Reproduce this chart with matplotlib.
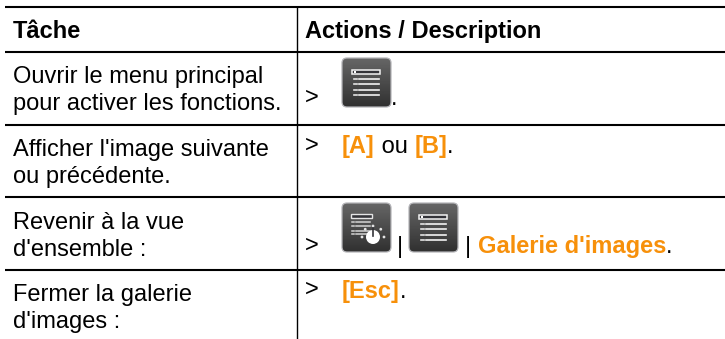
import numpy as np
import matplotlib
matplotlib.use('Agg')
import matplotlib.pyplot as plt
from matplotlib.patches import FancyBboxPatch, Circle, Rectangle

plt.rcParams['font.family'] = ['Liberation Sans', 'DejaVu Sans']

# ---------------------------
# Inhalt der Tabelle
# ---------------------------
headers = ['Tâche', 'Actions / Description']
taches = [['Ouvrir le menu principal', 'pour activer les fonctions.'],
          ["Afficher l'image suivante", 'ou précédente.'],
          ['Revenir à la vue', "d'ensemble :"],
          ['Fermer la galerie', "d'images :"]]
ligne_y = [7, 52, 125, 197, 270]
orange = '#f7900a'
noir = '#000000'
fs = 17.0

fig = plt.figure(figsize=(7.25, 3.39), dpi=100)
ax = fig.add_axes([0, 0, 1, 1])
ax.set_xlim(0, 725)
ax.set_ylim(339, 0)
ax.axis('off')


def icone(x, y, w=49, h=49):
    grad = np.linspace(0.40, 0.19, 64).reshape(-1, 1)
    im = ax.imshow(grad, extent=(x, x + w, y + h, y), cmap='gray', vmin=0, vmax=1,
                   aspect='auto', zorder=2, interpolation='bilinear')
    box = FancyBboxPatch((x + 4, y + 4), w - 8, h - 8, boxstyle='round,pad=4,rounding_size=5',
                         fc='none', ec='#b4b4b8', lw=0.9, zorder=3)
    ax.add_patch(box)
    im.set_clip_path(box)


def liste(x, y):
    # Menüsymbol: Titelbalken und vier Zeilen
    ax.add_patch(Rectangle((x + 10, y + 12), 28, 4, fc='#333338', ec='#f2f2f2', lw=1.1, zorder=4))
    ax.add_patch(Rectangle((x + 12, y + 12.8), 2.5, 2.5, fc='white', ec='none', zorder=5))
    for yy in [21, 26, 31.5, 36.5]:
        ax.plot([x + 12, x + 15], [y + yy, y + yy], color='#e4e4e4', lw=1.2, zorder=4)
        ax.plot([x + 17, x + 37], [y + yy, y + yy], color='#f2f2f2', lw=1.2, zorder=4)


def liste_bouton(x, y):
    ax.add_patch(Rectangle((x + 9, y + 11), 21, 4, fc='#333338', ec='#e4e4e4', lw=1.0, zorder=4))
    for yy in [19, 23, 27.5, 31]:
        ax.plot([x + 10, x + 12], [y + yy, y + yy], color='#d4d4d4', lw=1.1, zorder=4)
        ax.plot([x + 14, x + 28], [y + yy, y + yy], color='#d4d4d4', lw=1.1, zorder=4)
    ax.add_patch(Circle((x + 31, y + 34), 7, fc='white', ec='none', zorder=5))
    ax.plot([x + 31, x + 31], [y + 25, y + 33], color='#333338', lw=1.2, zorder=6)
    for a in np.deg2rad([180, 225, 270, 315, 0]):
        ax.add_patch(Circle((x + 31 + 11 * np.cos(a), y + 34 + 11 * np.sin(a)), 1.4,
                            fc='#e4e4e4', ec='none', zorder=5))


def zeile(x, y, teile):
    # Textstücke nacheinander setzen, Breite aus dem Renderer
    r = fig.canvas.get_renderer()
    for txt, fett in teile:
        t = ax.text(x, y, txt, fontsize=fs, va='baseline',
                    fontweight='bold' if fett else 'normal',
                    color=orange if fett else noir)
        x = ax.transData.inverted().transform(t.get_window_extent(r))[1, 0]
    return x


# ---------------------------
# Linien
# ---------------------------
for y in ligne_y:
    ax.plot([5, 725], [y, y], color=noir, lw=1.5, solid_capstyle='butt', zorder=1)
ax.plot([297, 297], [7, 339], color=noir, lw=1.0, solid_capstyle='butt', zorder=1)

# ---------------------------
# Text
# ---------------------------
ax.text(13, 38, headers[0], fontsize=fs, fontweight='bold', va='baseline')
ax.text(305, 38, headers[1], fontsize=fs, fontweight='bold', va='baseline')

for zeilen, y in zip(taches, [83, 156, 229, 301]):
    ax.text(13, y, zeilen[0], fontsize=fs, va='baseline')
    ax.text(13, y + 27, zeilen[1], fontsize=fs, va='baseline')

for y in [104, 152, 252, 296]:
    ax.text(305, y, '>', fontsize=fs, va='baseline')

# Zeile 1
icone(342, 58)
liste(342, 58)
ax.text(391, 105, '.', fontsize=fs, va='baseline')

# Zeile 2
zeile(342, 153, [('[A]', True), (' ou ', False), ('[B]', True), ('.', False)])

# Zeile 3
icone(342, 203)
liste_bouton(342, 203)
ax.text(397, 253, '|', fontsize=fs, va='baseline')
icone(409, 203)
liste(409, 203)
ax.text(465, 253, '|', fontsize=fs, va='baseline')
zeile(478, 253, [("Galerie d'images", True), ('.', False)])

# Zeile 4
zeile(342, 298, [('[Esc]', True), ('.', False)])

fig.savefig('out.png', dpi=100)
